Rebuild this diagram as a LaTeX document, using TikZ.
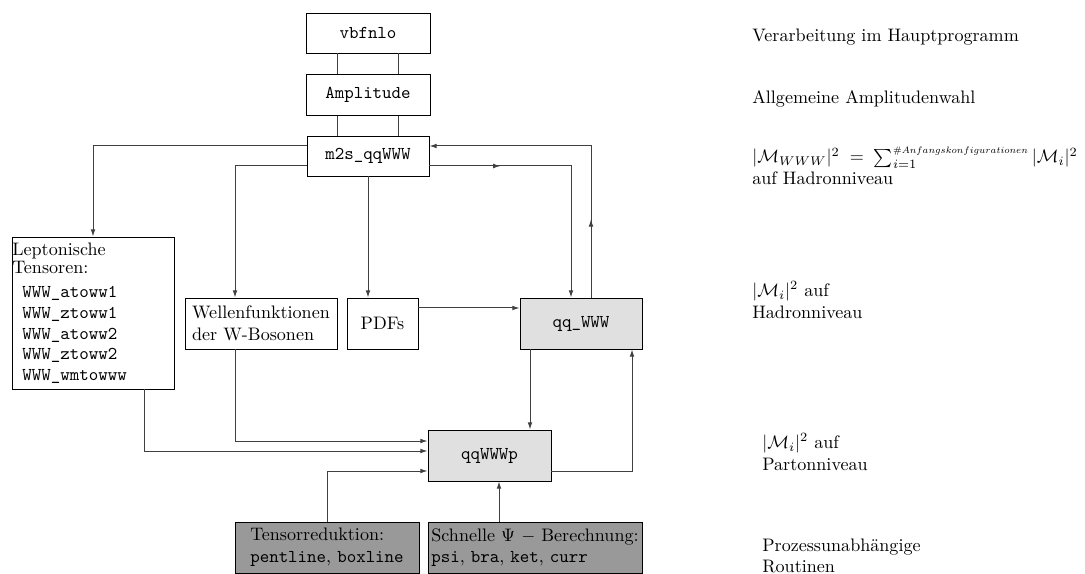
\documentclass[tikz,border=0pt]{standalone}
\usetikzlibrary{calc,arrows.meta,decorations.markings}
\def\px{0.553pt}
\begin{document}
\begin{tikzpicture}[x=0.553pt,y=-0.553pt,font=\fontsize{10}{12}\selectfont,
  box/.style={draw,line width=0.5pt,inner sep=0pt,align=left},
  light/.style={box,fill=black!12},
  dark/.style={box,fill=black!40},
  conn/.style={draw=black!75,line width=0.55pt},
  arr/.style={conn,-{Latex[length=4pt,width=2.6pt]}},
  midarr/.style={postaction={decorate},decoration={markings,mark=at position #1 with {\arrow{Latex[length=4pt,width=2.6pt]}}}},
  note/.style={anchor=west,inner sep=0pt,align=left}]
\useasboundingbox (0,0) rectangle (1085,574);
% boxes
\node[box,minimum width=124*\px,minimum height=40*\px,font=\ttfamily] (v) at (368,33) {vbfnlo};
\node[box,minimum width=124*\px,minimum height=41*\px,font=\ttfamily] (amp) at (368,95) {Amplitude};
\node[box,minimum width=122*\px,minimum height=40*\px,font=\ttfamily] (m) at (368,156) {m2s\_qqWWW};
\node[box,minimum width=162*\px,minimum height=152*\px] (lep) at (93,313) {};
\node[anchor=north west,inner sep=0pt,align=left,font=\fontsize{10}{8}\selectfont] (leptitle) at (12,243) {Leptonische\\Tensoren:};
\node[anchor=north west,inner sep=0pt,align=left,font=\ttfamily\fontsize{10}{11.5}\selectfont] (leplist) at (22,286) {WWW\_atoww1\\WWW\_ztoww1\\WWW\_atoww2\\WWW\_ztoww2\\WWW\_wmtowww};
\node[box,minimum width=152*\px,minimum height=51*\px] (wf) at (261,323.5) {Wellenfunktionen\\der W-Bosonen};
\node[box,minimum width=71*\px,minimum height=51*\px] (pdf) at (382.5,323.5) {PDFs};
\node[light,minimum width=122*\px,minimum height=51*\px,font=\ttfamily] (qq) at (581,323.5) {qq\_WWW};
\node[light,minimum width=123*\px,minimum height=51*\px,font=\ttfamily] (p) at (489.5,455.5) {qqWWWp};
\node[dark,minimum width=184*\px,minimum height=51*\px] (t) at (327,547.5) {Tensorreduktion:\\\texttt{pentline}, \texttt{boxline}};
\node[dark,minimum width=214*\px,minimum height=51*\px] (s) at (535,547.5) {Schnelle $\Psi$ $-$ Berechnung:\\\texttt{psi}, \texttt{bra}, \texttt{ket}, \texttt{curr}};
% helper coordinates
\coordinate (c1) at ($(qq.south)+(-51,0)$);
\coordinate (c2) at ($(s.north)+(-36,0)$);
% connectors
\draw[conn] ($(v.south)+(-31,0)$) -- ($(amp.north)+(-31,0)$);
\draw[conn] ($(v.south)+(30,0)$) -- ($(amp.north)+(30,0)$);
\draw[conn] ($(amp.south)+(-31,0)$) -- ($(m.north)+(-31,0)$);
\draw[conn] ($(amp.south)+(30,0)$) -- ($(m.north)+(30,0)$);
\draw[arr] ($(m.west)+(0,-10)$) -| (lep.north);
\draw[arr] ($(m.west)+(0,10)$) -| ($(wf.north)+(-26,0)$);
\draw[arr] (m.south) -- (m.south |- pdf.north);
\draw[arr] ($(pdf.east)+(0,-15.5)$) -- ($(qq.west)+(0,-15.5)$);
\draw[arr,midarr=0.26] ($(m.east)+(0,10)$) -| ($(qq.north)+(-10,0)$);
\draw[arr,midarr=0.25] ($(qq.north)+(10,0)$) |- ($(m.east)+(0,-10)$);
\draw[arr] (c1) -- (c1 |- p.north);
\draw[arr] ($(p.east)+(0,15.5)$) -| ($(qq.south)+(51,0)$);
\draw[arr] ($(wf.south)+(-26,0)$) |- ($(p.west)+(0,-14.5)$);
\draw[arr] ($(lep.south)+(51,0)$) |- ($(p.west)+(0,-4.5)$);
\draw[arr] (t.north) |- ($(p.west)+(0,15.5)$);
\draw[arr] (c2) -- (c2 |- p.south);
% notes
\node[note] (n1) at (752,37) {Verarbeitung im Hauptprogramm};
\node[note] (n2) at (752,99) {Allgemeine Amplitudenwahl};
\node[note] (n3) at (752,166) {$|\mathcal{M}_{WWW}|^2\;=\;\sum_{i=1}^{\scalebox{0.74}{$\scriptstyle\#Anfangskonfigurationen$}}|\mathcal{M}_i|^2$\\auf Hadronniveau};
\node[note] (n4) at (752,300) {$|\mathcal{M}_i|^2$ auf\\Hadronniveau};
\node[note] (n5) at (762,452) {$|\mathcal{M}_i|^2$ auf\\Partonniveau};
\node[note] (n6) at (762,556) {Prozessunabhängige\\Routinen};
\end{tikzpicture}
\end{document}
